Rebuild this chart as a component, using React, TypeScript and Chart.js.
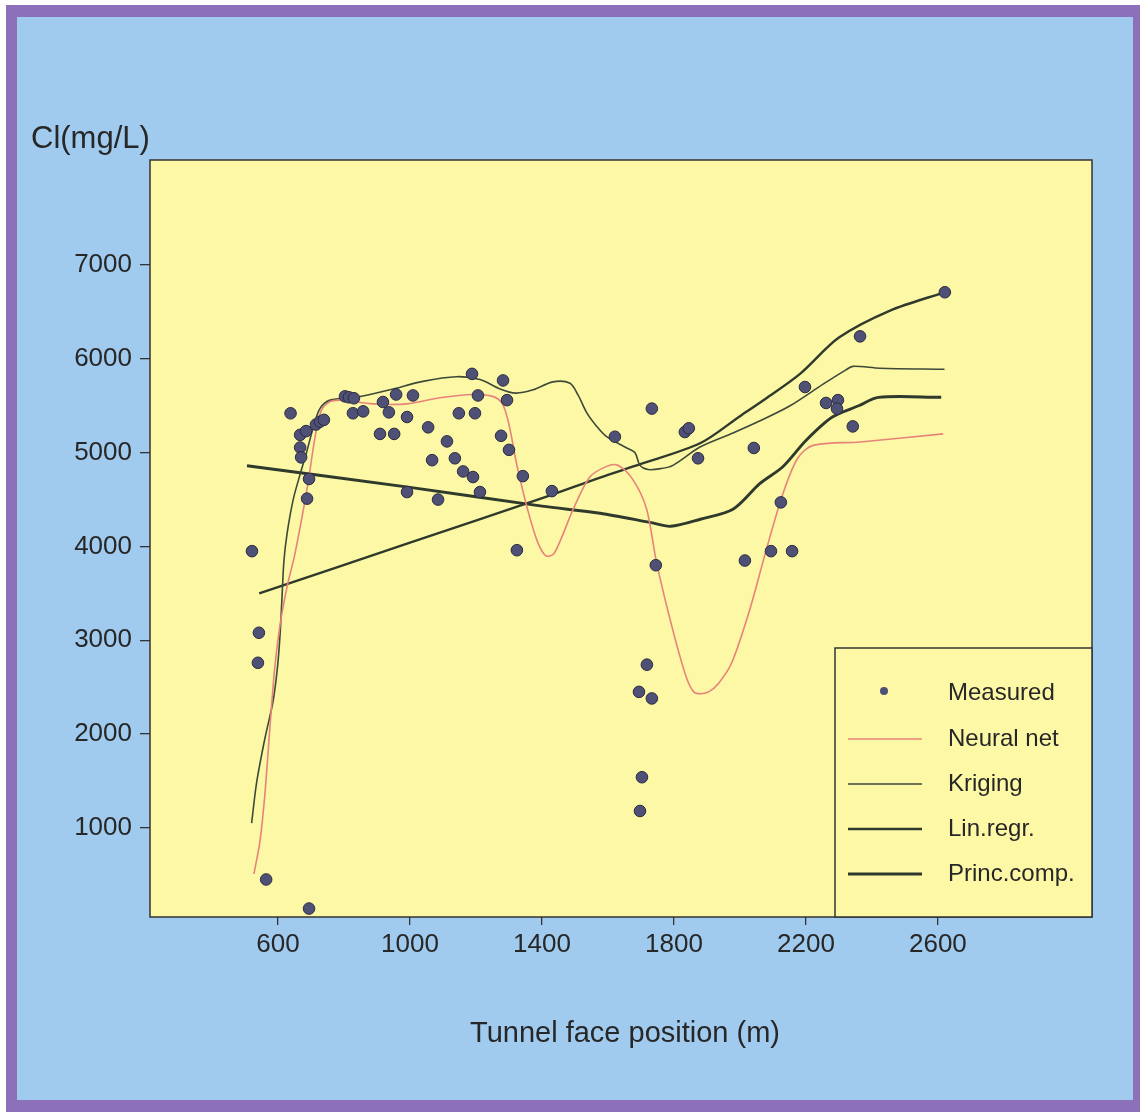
import React, { useEffect, useRef } from "react";
import { Chart, registerables } from "chart.js";
Chart.register(...registerables);

// ---- data ----
const measuredX = [521, 542, 539, 564, 694, 638, 667, 685, 667, 670, 694, 688, 715, 727, 739, 803, 815, 830, 827, 858,
  918, 936, 909, 952, 958, 1009, 991, 1055, 1067, 1112, 1136, 1161, 1191, 1212, 991, 1085, 1188, 1206, 1148, 1197,
  1282, 1294, 1276, 1300, 1342, 1324, 1430, 1621, 1733, 1833, 1845, 1873, 2042, 2124, 2015, 2094, 2158, 1745, 1718, 1694,
  1733, 1703, 1697, 2621, 2364, 2197, 2261, 2297, 2294, 2342];
const measuredY = [3950, 3080, 2760, 450, 140, 5420, 5190, 5230, 5055, 4950, 4720, 4510, 5300, 5330, 5350, 5600, 5590, 5580, 5420, 5440,
  5540, 5430, 5200, 5200, 5620, 5610, 5380, 5270, 4920, 5120, 4940, 4800, 4740, 4580, 4580, 4500, 5840, 5610, 5420, 5420,
  5770, 5560, 5180, 5030, 4750, 3960, 4590, 5170, 5470, 5220, 5260, 4940, 5050, 4470, 3850, 3950, 3950, 3800, 2740, 2450,
  2380, 1540, 1180, 6710, 6240, 5700, 5530, 5560, 5470, 5280];

const neuralX = [527, 545, 560, 575, 590, 606, 628, 650, 672, 692, 712, 730, 755, 790, 888, 990, 1091, 1191, 1250, 1280,
  1300, 1322, 1345, 1368, 1390, 1412, 1435, 1460, 1495, 1545, 1596, 1630, 1676, 1717, 1748, 1798, 1838, 1860, 1880, 1905,
  1935, 1975, 2030, 2081, 2131, 2175, 2222, 2364, 2616];
const neuralY = [510, 850, 1350, 2050, 2700, 3160, 3580, 3900, 4300, 4700, 5160, 5440, 5540, 5560, 5520, 5520, 5585, 5620, 5600, 5520,
  5300, 4900, 4550, 4250, 4020, 3900, 3920, 4100, 4400, 4740, 4854, 4865, 4710, 4400, 3815, 3090, 2600, 2450, 2430, 2450,
  2540, 2760, 3330, 3980, 4570, 4940, 5078, 5114, 5200];

const krigingX = [520, 535, 560, 585, 598, 606, 612, 618, 628, 646, 667, 687, 707, 727, 758, 838, 939, 1039, 1141, 1212,
  1273, 1320, 1373, 1433, 1485, 1510, 1535, 1566, 1596, 1657, 1682, 1697, 1722, 1760, 1797, 1879, 1979, 2061, 2152, 2252,
  2320, 2342, 2424, 2620];
const krigingY = [1050, 1480, 1950, 2350, 2700, 3050, 3450, 3850, 4150, 4500, 4770, 5010, 5270, 5470, 5560, 5590, 5670, 5760, 5810, 5780,
  5680, 5635, 5670, 5755, 5740, 5610, 5430, 5280, 5170, 5050, 5000, 4865, 4820, 4830, 4865, 5060, 5210, 5340, 5500, 5730,
  5880, 5920, 5900, 5890];

const linRegrX = [543, 1000, 1394, 1576, 1700, 1879, 2000, 2080, 2182, 2300, 2455, 2620];
const linRegrY = [3500, 4040, 4507, 4735, 4880, 5100, 5389, 5580, 5840, 6227, 6515, 6710];

const princX = [506, 1000, 1400, 1576, 1727, 1790, 1880, 1980, 2060, 2130, 2200, 2280, 2360, 2420, 2610];
const princY = [4860, 4630, 4430, 4354, 4257, 4215, 4290, 4400, 4670, 4850, 5130, 5380, 5500, 5590, 5590];

const xTicks = [600, 1000, 1400, 1800, 2200, 2600];
const yTicks = [1000, 2000, 3000, 4000, 5000, 6000, 7000];

const xTitle = "Tunnel face position (m)";
const yTitle = "Cl(mg/L)";

// ---- styles ----
const PURPLE = "#8c70b9";
const BLUE = "#a0caee";
const YELLOW = "#fdf8a6";
const DARK = "#2f3a2c";
const KRIG = "#3e4a39";
const RED = "#e6837a";
const TEXT = "#272727";
const FONT = '"Liberation Sans", Arial, Helvetica, sans-serif';

const zip = (xs: number[], ys: number[]) => xs.map((x, i) => ({ x, y: ys[i] }));

const decorPlugin = {
  id: "decor",
  beforeDraw(chart: any) {
    const { ctx, chartArea: a, width, height } = chart;
    ctx.save();
    ctx.fillStyle = "#ffffff";
    ctx.fillRect(0, 0, width, height);
    ctx.fillStyle = PURPLE;
    ctx.fillRect(6, 5, width - 6, 1107);
    ctx.fillStyle = BLUE;
    ctx.fillRect(17, 17, 1116, 1083);
    ctx.fillStyle = YELLOW;
    ctx.fillRect(a.left, a.top, a.right - a.left, a.bottom - a.top);
    ctx.restore();
  },
  afterDraw(chart: any) {
    const { ctx, chartArea: a } = chart;
    ctx.save();
    // plot frame
    ctx.strokeStyle = "#333333";
    ctx.lineWidth = 1.5;
    ctx.strokeRect(a.left, a.top, a.right - a.left, a.bottom - a.top);

    // titles
    ctx.fillStyle = TEXT;
    ctx.font = `31px ${FONT}`;
    ctx.textBaseline = "middle";
    ctx.textAlign = "left";
    ctx.fillText(yTitle, 31, 139);
    ctx.font = `29px ${FONT}`;
    ctx.textAlign = "center";
    ctx.fillText(xTitle, (a.left + a.right) / 2 + 4, 1034);

    // legend box
    const bx = 835, by = 648;
    ctx.fillStyle = YELLOW;
    ctx.fillRect(bx, by, a.right - bx, a.bottom - by);
    ctx.strokeStyle = "#333333";
    ctx.lineWidth = 1.5;
    ctx.strokeRect(bx, by, a.right - bx, a.bottom - by);
    const rows = [693, 739, 784, 829, 874];
    ctx.font = `24px ${FONT}`;
    ctx.textAlign = "left";
    ctx.textBaseline = "middle";
    chart.data.datasets.forEach((ds: any, i: number) => {
      const y = rows[i];
      if (ds.showLine) {
        ctx.strokeStyle = ds.borderColor;
        ctx.lineWidth = ds.borderWidth;
        ctx.beginPath();
        ctx.moveTo(848, y);
        ctx.lineTo(922, y);
        ctx.stroke();
      } else {
        ctx.fillStyle = ds.backgroundColor;
        ctx.beginPath();
        ctx.arc(884, y - 2, 4, 0, Math.PI * 2);
        ctx.fill();
      }
      ctx.fillStyle = TEXT;
      ctx.fillText(ds.label, 948, y);
    });
    ctx.restore();
  },
};

export default function App() {
  const ref = useRef<HTMLCanvasElement | null>(null);
  useEffect(() => {
    if (!ref.current) return;
    const lineDs = (label: string, xs: number[], ys: number[], color: string, w: number) => ({
      label,
      data: zip(xs, ys),
      showLine: true,
      borderColor: color,
      backgroundColor: color,
      borderWidth: w,
      pointRadius: 0,
      tension: 0.3,
      borderJoinStyle: "round" as const,
    });
    const chart = new Chart(ref.current, {
      type: "scatter",
      data: {
        datasets: [
          {
            label: "Measured",
            data: zip(measuredX, measuredY),
            showLine: false,
            pointRadius: 5.8,
            backgroundColor: "#4e5075",
            borderColor: "#2c2c44",
            borderWidth: 1,
          } as any,
          lineDs("Neural net", neuralX, neuralY, RED, 1.6),
          lineDs("Kriging", krigingX, krigingY, KRIG, 1.6),
          lineDs("Lin.regr.", linRegrX, linRegrY, DARK, 2.4),
          lineDs("Princ.comp.", princX, princY, DARK, 2.9),
        ],
      },
      options: {
        animation: false,
        responsive: false,
        devicePixelRatio: 1,
        layout: { padding: { left: 0, top: 160, right: 48, bottom: 0 } },
        plugins: { legend: { display: false }, tooltip: { enabled: false }, title: { display: false } },
        scales: {
          x: {
            type: "linear",
            min: 212,
            max: 3067,
            afterBuildTicks: (s: any) => {
              s.ticks = xTicks.map((v) => ({ value: v }));
            },
            afterFit: (s: any) => {
              s.height = 203;
            },
            border: { display: false },
            grid: { drawOnChartArea: false, drawTicks: true, tickLength: 8, color: "#333333", lineWidth: 1.3 },
            ticks: { color: TEXT, font: { family: FONT, size: 26 }, padding: 4, maxRotation: 0, callback: (v: any) => String(v) },
          },
          y: {
            type: "linear",
            min: 50,
            max: 8120,
            afterBuildTicks: (s: any) => {
              s.ticks = yTicks.map((v) => ({ value: v }));
            },
            afterFit: (s: any) => {
              s.width = 150;
            },
            border: { display: false },
            grid: { drawOnChartArea: false, drawTicks: true, tickLength: 10, color: "#333333", lineWidth: 1.3 },
            ticks: { color: TEXT, font: { family: FONT, size: 26 }, padding: 8, callback: (v: any) => String(v) },
          },
        },
      },
      plugins: [decorPlugin],
    });
    return () => chart.destroy();
  }, []);
  return (
    <div style={{ position: "absolute", left: 0, top: 0, width: 1140, height: 1120 }}>
      <canvas ref={ref} width={1140} height={1120} style={{ width: 1140, height: 1120, display: "block" }} />
    </div>
  );
}
